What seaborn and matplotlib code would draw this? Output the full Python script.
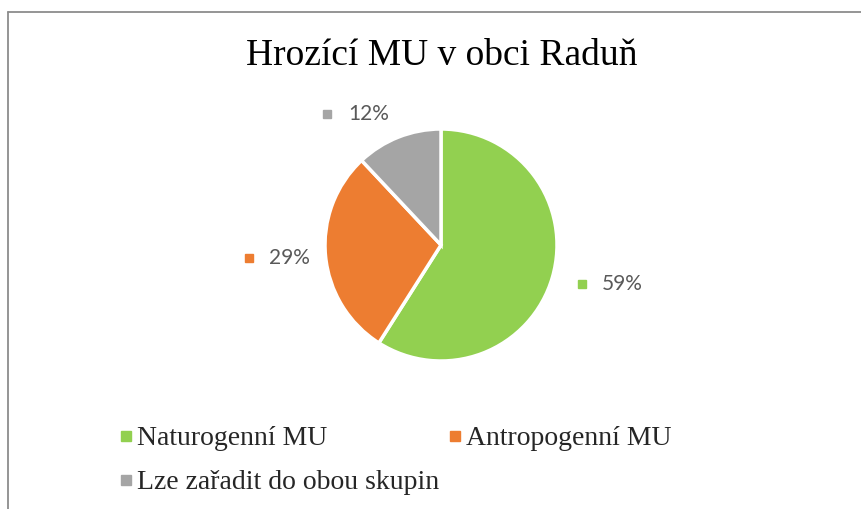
import matplotlib
matplotlib.use('Agg')
import numpy as np
import seaborn as sns
import matplotlib.pyplot as plt
from matplotlib.lines import Line2D

# Data
categories = ['Naturogenní MU', 'Antropogenní MU', 'Lze zařadit do obou skupin']
shares = [59, 29, 12]
pct_labels = ['59%', '29%', '12%']
colors = ['#92D050', '#ED7D31', '#A5A5A5']

W, H = 861, 509

sns.set_theme(style='white')
plt.rcParams['font.family'] = ['Liberation Serif', 'DejaVu Serif']

fig = plt.figure(figsize=(W / 100, H / 100), dpi=100)
fig.patch.set_facecolor('white')

# Axes in pixel units so the pie stays round
ax = fig.add_axes([0, 0, 1, 1])

cx, cy, r = 441, H - 245, 116
wedges, _ = ax.pie(shares, colors=colors, startangle=90, counterclock=False,
                   center=(cx, cy), radius=r, frame=True,
                   wedgeprops=dict(edgecolor='white', linewidth=2.5))
ax.set_xlim(0, W)
ax.set_ylim(0, H)
ax.set_aspect('equal')
ax.axis('off')

# Data labels (offsets in units of the radius, Excel-like placement)
label_pos = [(1.47, -0.34), (-1.40, -0.11), (-0.72, 1.13)]
for (lx, ly), txt, c in zip(label_pos, pct_labels, colors):
    x, y = cx + lx * r, cy + ly * r
    ax.text(x + 11, y, txt, ha='center', va='center', fontsize=15,
            family=['Lato', 'DejaVu Sans'], color='#595959')
    ax.plot([x - 30], [y], marker='s', markersize=6, color=c, linestyle='')

fig.text(442 / W, 1 - 56 / H, 'Hrozící MU v obci Raduň', ha='center', va='center',
         fontsize=27, color='black')

# Legend: two columns, order so that row 1 = Nat, Antr; row 2 = Lze
handles = [Line2D([], [], marker='s', linestyle='', color=c, markersize=7) for c in colors]
order = [0, 2, 1]
fig.legend([handles[i] for i in order], [categories[i] for i in order],
           ncol=2, loc='upper left', bbox_to_anchor=(119 / W, 1 - 426 / H),
           frameon=False, fontsize=20, handlelength=0.5, handletextpad=0.15,
           columnspacing=0.3, labelspacing=0.66, borderpad=0, borderaxespad=0)

# Chart-area border (left and top only visible)
fig.add_artist(Line2D([8 / W, 8 / W], [0, 1 - 12 / H], transform=fig.transFigure,
                      color='#8C8C8C', linewidth=1.3))
fig.add_artist(Line2D([8 / W, 1], [1 - 12 / H, 1 - 12 / H], transform=fig.transFigure,
                      color='#8C8C8C', linewidth=1.3))

fig.savefig('out.png', dpi=100, facecolor='white')
